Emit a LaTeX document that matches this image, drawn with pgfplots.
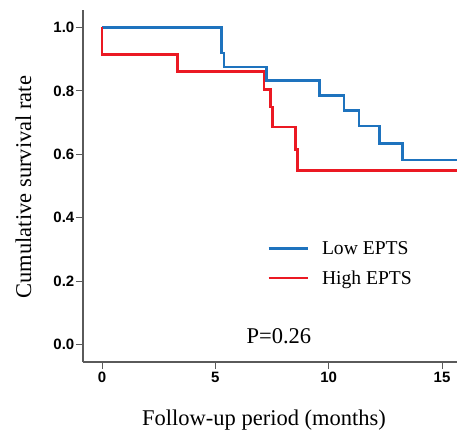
\documentclass[border=0pt]{standalone}
\usepackage{fontspec}
\setmainfont{Liberation Serif}
\newfontfamily\arialfont{Liberation Sans}
\usepackage{pgfplots}
\pgfplotsset{compat=1.18}
\definecolor{kmblue}{RGB}{30,115,190}
\definecolor{kmred}{RGB}{235,25,35}
\definecolor{axgray}{RGB}{90,90,90}
\begin{document}
\begin{tikzpicture}
\begin{axis}[
  name=ax,
  scale only axis, width=374pt, height=352pt,
  xmin=-0.84, xmax=15.66, ymin=-0.055, ymax=1.055,
  axis x line=bottom, axis y line=left,
  axis line style={-, color=axgray, line width=1.2pt},
  xtick={0,5,10,15}, ytick={0,0.2,0.4,0.6,0.8,1.0},
  tick align=outside, major tick length=7pt,
  tick style={color=axgray, line width=1pt},
  /pgf/number format/assume math mode=true,
  ticklabel style={font=\arialfont\bfseries\fontsize{15}{17}\selectfont},
  yticklabel style={/pgf/number format/fixed, /pgf/number format/fixed zerofill, /pgf/number format/precision=1, inner sep=1.5pt},
  xticklabel style={inner sep=2.5pt},
  xlabel={Follow-up period (months)},
  ylabel={Cumulative survival rate},
  label style={font=\fontsize{22.5}{26}\selectfont},
  xlabel style={at={(axis description cs:0.484,0)}, anchor=base, yshift=-63pt},
  ylabel style={at={(axis description cs:-0.139,0.497)}, anchor=base},
  legend style={at={(axis cs:7.15,0.332)}, anchor=north west, draw=none, fill=none,
    font=\fontsize{19.6}{23}\selectfont, nodes={inner sep=0pt}, row sep=14.5pt, column sep=13pt},
  legend cell align=left,
  legend image code/.code={\draw[#1] (0pt,0pt) -- (39pt,0pt);},
]
\addplot[const plot, color=kmblue, line width=2.7pt] coordinates {
 (0,1) (5.28,0.919) (5.38,0.875) (7.26,0.833) (9.59,0.786) (10.68,0.739)
 (11.34,0.689) (12.23,0.634) (13.25,0.582) (16,0.582)};
\addlegendentry{Low EPTS}
\addplot[const plot, color=kmred, line width=2.7pt] coordinates {
 (0,1) (0,0.914) (3.32,0.862) (7.15,0.804) (7.44,0.749) (7.53,0.686)
 (8.53,0.616) (8.63,0.548) (16,0.548)};
\addlegendentry{High EPTS}
\node[anchor=base, font=\fontsize{22.5}{26}\selectfont] at (axis cs:7.8,0.003) {P=0.26};
\end{axis}
\pgfresetboundingbox
\path[use as bounding box] ([xshift=-83pt,yshift=-69pt]ax.south west) rectangle ([yshift=10pt]ax.north east);
\end{tikzpicture}
\end{document}
